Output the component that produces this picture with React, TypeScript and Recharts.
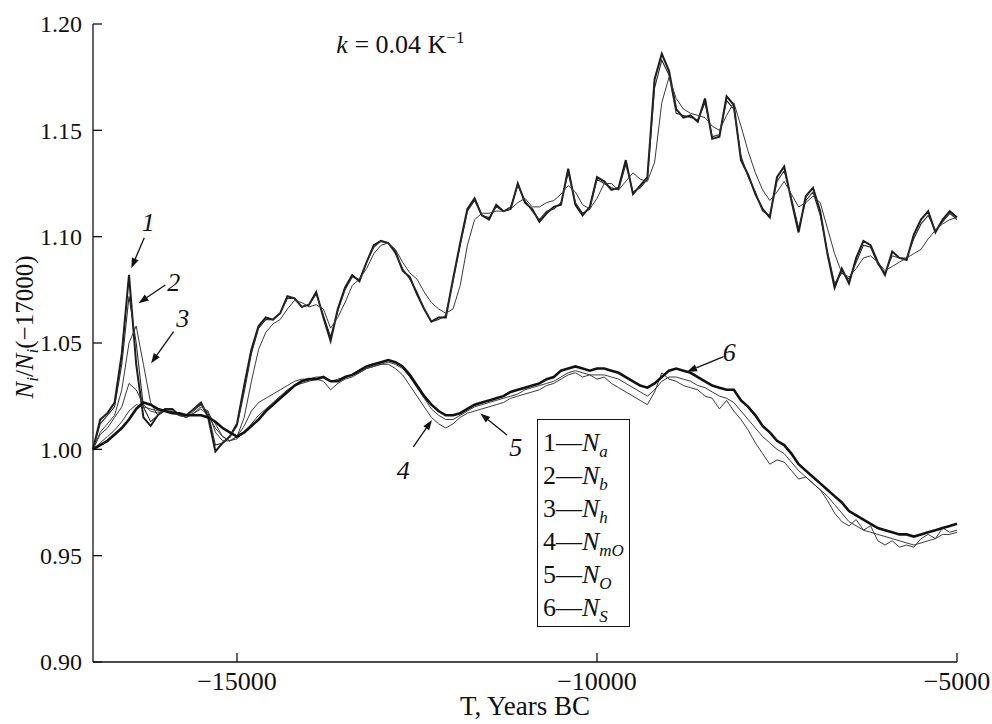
import { LineChart, Line, XAxis, YAxis, ReferenceLine, ReferenceDot, Legend } from "recharts";

const FONT = "'Liberation Serif', 'Times New Roman', serif";

// time grid, every 100 years
const years = Array.from({ length: 121 }, (_, i) => -17000 + i * 100);

const nA = [
  1.000, 1.014, 1.017, 1.022, 1.045, 1.082, 1.040, 1.015, 1.011, 1.016,
  1.019, 1.019, 1.016, 1.016, 1.019, 1.022, 1.015, 0.999, 1.003, 1.006,
  1.012, 1.030, 1.047, 1.058, 1.062, 1.061, 1.064, 1.072, 1.071, 1.067,
  1.068, 1.074, 1.062, 1.051, 1.066, 1.076, 1.082, 1.079, 1.088, 1.096,
  1.098, 1.097, 1.093, 1.084, 1.081, 1.073, 1.066, 1.060, 1.062, 1.062,
  1.080, 1.097, 1.113, 1.118, 1.110, 1.108, 1.115, 1.112, 1.113, 1.125,
  1.116, 1.113, 1.107, 1.111, 1.114, 1.115, 1.132, 1.115, 1.110, 1.114,
  1.128, 1.126, 1.122, 1.123, 1.136, 1.120, 1.124, 1.128, 1.174, 1.186,
  1.178, 1.160, 1.156, 1.157, 1.154, 1.165, 1.146, 1.147, 1.166, 1.162,
  1.136, 1.129, 1.120, 1.113, 1.109, 1.128, 1.133, 1.117, 1.102, 1.119,
  1.123, 1.112, 1.092, 1.076, 1.085, 1.078, 1.090, 1.098, 1.096, 1.088,
  1.082, 1.093, 1.090, 1.089, 1.101, 1.108, 1.112, 1.102, 1.108, 1.112,
  1.109,
];

const nB = [
  1.000, 1.012, 1.016, 1.020, 1.040, 1.072, 1.050, 1.020, 1.013, 1.016,
  1.019, 1.019, 1.016, 1.016, 1.019, 1.021, 1.017, 1.002, 1.003, 1.006,
  1.011, 1.027, 1.045, 1.057, 1.061, 1.061, 1.064, 1.071, 1.071, 1.067,
  1.068, 1.073, 1.063, 1.053, 1.065, 1.075, 1.081, 1.080, 1.088, 1.095,
  1.098, 1.097, 1.092, 1.085, 1.080, 1.074, 1.066, 1.060, 1.061, 1.063,
  1.079, 1.096, 1.112, 1.117, 1.110, 1.109, 1.114, 1.112, 1.114, 1.124,
  1.117, 1.112, 1.108, 1.112, 1.113, 1.116, 1.130, 1.116, 1.111, 1.113,
  1.127, 1.125, 1.123, 1.122, 1.134, 1.121, 1.123, 1.127, 1.170, 1.183,
  1.176, 1.158, 1.157, 1.156, 1.155, 1.163, 1.147, 1.148, 1.164, 1.160,
  1.138, 1.128, 1.121, 1.112, 1.110, 1.126, 1.131, 1.118, 1.104, 1.117,
  1.121, 1.110, 1.093, 1.078, 1.083, 1.080, 1.088, 1.096, 1.095, 1.087,
  1.083, 1.091, 1.090, 1.090, 1.099, 1.106, 1.110, 1.103, 1.107, 1.111,
  1.108,
];

const nH = [
  1.000, 1.008, 1.012, 1.016, 1.028, 1.050, 1.058, 1.040, 1.022, 1.016,
  1.018, 1.018, 1.016, 1.015, 1.017, 1.020, 1.018, 1.008, 1.004, 1.004,
  1.006, 1.015, 1.032, 1.047, 1.055, 1.059, 1.061, 1.066, 1.070, 1.069,
  1.067, 1.068, 1.066, 1.057, 1.062, 1.069, 1.077, 1.080, 1.085, 1.092,
  1.096, 1.097, 1.094, 1.088, 1.083, 1.080, 1.074, 1.069, 1.066, 1.064,
  1.066, 1.077, 1.096, 1.108, 1.111, 1.111, 1.112, 1.112, 1.113, 1.116,
  1.118, 1.114, 1.114, 1.116, 1.117, 1.120, 1.124, 1.121, 1.115, 1.113,
  1.118, 1.125, 1.125, 1.122, 1.126, 1.130, 1.127, 1.126, 1.135, 1.163,
  1.175, 1.165, 1.160, 1.158, 1.157, 1.156, 1.152, 1.150, 1.157, 1.163,
  1.152, 1.140, 1.130, 1.122, 1.117, 1.121, 1.126, 1.120, 1.114, 1.116,
  1.119, 1.116, 1.104, 1.092, 1.083, 1.081, 1.085, 1.090, 1.091, 1.088,
  1.084, 1.086, 1.088, 1.090, 1.092, 1.094, 1.099, 1.103, 1.106, 1.108,
  1.109,
];

const nMO = [
  1.000, 1.003, 1.006, 1.009, 1.013, 1.018, 1.021, 1.020, 1.019, 1.018,
  1.018, 1.017, 1.016, 1.015, 1.017, 1.019, 1.016, 1.010, 1.006, 1.004,
  1.005, 1.008, 1.012, 1.016, 1.019, 1.022, 1.025, 1.028, 1.030, 1.031,
  1.032, 1.033, 1.032, 1.028, 1.031, 1.033, 1.034, 1.036, 1.038, 1.039,
  1.040, 1.040, 1.038, 1.035, 1.030, 1.025, 1.020, 1.015, 1.012, 1.010,
  1.012, 1.015, 1.017, 1.018, 1.019, 1.020, 1.021, 1.022, 1.024, 1.025,
  1.026, 1.027, 1.028, 1.030, 1.031, 1.033, 1.035, 1.036, 1.034, 1.035,
  1.033, 1.034, 1.031, 1.029, 1.027, 1.025, 1.023, 1.021, 1.027, 1.036,
  1.033, 1.032, 1.030, 1.029, 1.028, 1.025, 1.024, 1.019, 1.023, 1.018,
  1.014, 1.009, 1.003, 0.998, 0.993, 0.995, 0.994, 0.990, 0.986, 0.987,
  0.984, 0.981, 0.976, 0.970, 0.966, 0.964, 0.967, 0.962, 0.964, 0.957,
  0.955, 0.957, 0.954, 0.955, 0.954, 0.958, 0.960, 0.958, 0.963, 0.961,
  0.962,
];

const nO = [
  1.000, 1.007, 1.010, 1.015, 1.020, 1.031, 1.028, 1.021, 1.018, 1.017,
  1.018, 1.018, 1.016, 1.015, 1.018, 1.021, 1.017, 1.012, 1.006, 1.004,
  1.006, 1.011, 1.018, 1.022, 1.024, 1.026, 1.028, 1.030, 1.032, 1.033,
  1.033, 1.034, 1.034, 1.032, 1.033, 1.034, 1.035, 1.036, 1.038, 1.039,
  1.040, 1.041, 1.040, 1.038, 1.034, 1.029, 1.024, 1.019, 1.016, 1.014,
  1.014, 1.016, 1.018, 1.020, 1.021, 1.022, 1.023, 1.024, 1.025, 1.026,
  1.028, 1.029, 1.030, 1.031, 1.032, 1.034, 1.036, 1.037, 1.036, 1.035,
  1.035, 1.035, 1.034, 1.033, 1.031, 1.029, 1.027, 1.025, 1.028, 1.032,
  1.034, 1.034, 1.033, 1.032, 1.030, 1.029, 1.027, 1.025, 1.024, 1.022,
  1.018, 1.014, 1.010, 1.006, 1.003, 1.000, 0.998, 0.994, 0.990, 0.987,
  0.984, 0.981, 0.978, 0.974, 0.970, 0.966, 0.964, 0.962, 0.961, 0.960,
  0.959, 0.958, 0.957, 0.956, 0.955, 0.956, 0.957, 0.958, 0.960, 0.960,
  0.961,
];

const nS = [
  1.000, 1.002, 1.004, 1.007, 1.010, 1.014, 1.019, 1.022, 1.021, 1.019,
  1.018, 1.017, 1.017, 1.016, 1.016, 1.016, 1.015, 1.013, 1.010, 1.008,
  1.006, 1.008, 1.011, 1.014, 1.018, 1.021, 1.024, 1.027, 1.030, 1.032,
  1.033, 1.033, 1.034, 1.032, 1.032, 1.034, 1.035, 1.037, 1.039, 1.040,
  1.041, 1.042, 1.041, 1.039, 1.035, 1.030, 1.025, 1.021, 1.018, 1.016,
  1.016, 1.017, 1.019, 1.021, 1.022, 1.023, 1.024, 1.025, 1.027, 1.028,
  1.029, 1.030, 1.031, 1.033, 1.034, 1.037, 1.038, 1.039, 1.038, 1.037,
  1.038, 1.038, 1.037, 1.036, 1.034, 1.032, 1.030, 1.029, 1.031, 1.034,
  1.037, 1.038, 1.037, 1.036, 1.034, 1.032, 1.030, 1.029, 1.028, 1.028,
  1.023, 1.020, 1.016, 1.011, 1.008, 1.004, 1.002, 0.998, 0.993, 0.990,
  0.987, 0.984, 0.981, 0.978, 0.975, 0.971, 0.969, 0.967, 0.965, 0.963,
  0.962, 0.961, 0.960, 0.960, 0.959, 0.960, 0.961, 0.962, 0.963, 0.964,
  0.965,
];

const yTicks = [0.9, 0.95, 1.0, 1.05, 1.1, 1.15, 1.2];
const xTicks = [-15000, -10000, -5000];

const series = [
  { key: "nA", num: "1", sub: "a", values: nA, width: 2, color: "#1c1c1c" },
  { key: "nB", num: "2", sub: "b", values: nB, width: 1.1, color: "#2a2a2a" },
  { key: "nH", num: "3", sub: "h", values: nH, width: 1, color: "#3a3a3a" },
  { key: "nMO", num: "4", sub: "mO", values: nMO, width: 1, color: "#3a3a3a" },
  { key: "nO", num: "5", sub: "O", values: nO, width: 1, color: "#3a3a3a" },
  { key: "nS", num: "6", sub: "S", values: nS, width: 2.6, color: "#111" },
];

const data = years.map((t, i) => {
  const row: Record<string, number> = { t };
  series.forEach((s) => (row[s.key] = s.values[i]));
  return row;
});

// curve-number callouts: label point, arrow tail, arrow tip (data coords)
const callouts = [
  { text: "1", at: [-16232, 1.107], from: [-16288, 1.0995], to: [-16468, 1.0852] },
  { text: "2", at: [-15880, 1.0787], from: [-15996, 1.0773], to: [-16367, 1.0687] },
  { text: "3", at: [-15755, 1.0618], from: [-15881, 1.0553], to: [-16194, 1.0405] },
  { text: "4", at: [-12690, 0.9903], from: [-12551, 1.0011], to: [-12292, 1.0138] },
  { text: "5", at: [-11130, 1.001], from: [-11250, 1.0067], to: [-11621, 1.0169] },
  { text: "6", at: [-8163, 1.0458], from: [-8242, 1.0436], to: [-8750, 1.0365] },
];

function Arrow(props: any) {
  const { x1, y1, x2, y2 } = props;
  const ang = Math.atan2(y2 - y1, x2 - x1);
  const len = 10;
  const hw = 3.6;
  const bx = x2 - len * Math.cos(ang);
  const by = y2 - len * Math.sin(ang);
  const px = -Math.sin(ang) * hw;
  const py = Math.cos(ang) * hw;
  return (
    <g>
      <line x1={x1} y1={y1} x2={bx} y2={by} stroke="#111" strokeWidth={1.3} />
      <polygon points={`${x2},${y2} ${bx + px},${by + py} ${bx - px},${by - py}`} fill="#111" />
    </g>
  );
}

function YTick(props: any) {
  const { x, y, payload } = props;
  return (
    <g>
      <line x1={x + 11} x2={x + 20} y1={y} y2={y} stroke="#111" strokeWidth={1.3} />
      <text x={x} y={y} dy="0.35em" textAnchor="end" fontFamily={FONT} fontSize={24} fill="#111">
        {payload.value.toFixed(2)}
      </text>
    </g>
  );
}

function XTick(props: any) {
  const { x, y, payload } = props;
  return (
    <g>
      <line x1={x} x2={x} y1={y - 8} y2={y - 17} stroke="#111" strokeWidth={1.3} />
      <text x={x} y={y} dy="0.76em" textAnchor="middle" fontFamily={FONT} fontSize={26} fill="#111">
        {"\u2212" + Math.abs(payload.value)}
      </text>
    </g>
  );
}

function YTitle(props: any) {
  const vb = props.viewBox;
  const cx = vb.x + 24;
  const cy = vb.y + vb.height / 2 - 16;
  return (
    <text
      x={cx}
      y={cy}
      dy="0.35em"
      textAnchor="middle"
      transform={`rotate(-90, ${cx}, ${cy})`}
      fontFamily={FONT}
      fontSize={25}
      fill="#111"
    >
      <tspan fontStyle="italic">N</tspan>
      <tspan fontStyle="italic" fontSize={17} dy={5}>i</tspan>
      <tspan dy={-5}>/</tspan>
      <tspan fontStyle="italic">N</tspan>
      <tspan fontStyle="italic" fontSize={17} dy={5}>i</tspan>
      <tspan dy={-5}>({"\u2212"}17000)</tspan>
    </text>
  );
}

function LegendBox() {
  return (
    <div
      style={{
        width: 93,
        height: 208,
        boxSizing: "border-box",
        border: "1.3px solid #111",
        padding: "6px 0 0 5px",
        background: "#fff",
        fontFamily: FONT,
        fontSize: 26,
        color: "#111",
        textAlign: "left",
      }}
    >
      {series.map((s) => (
        <div key={s.key} style={{ height: 33, lineHeight: "33px", whiteSpace: "nowrap" }}>
          {s.num}
          {"\u2014"}
          <i>N</i>
          <i style={{ fontSize: 17, position: "relative", top: 6 }}>{s.sub}</i>
        </div>
      ))}
    </div>
  );
}

export default function App() {
  return (
    <div style={{ position: "absolute", left: 0, top: 0, width: 992, height: 724, background: "#fff" }}>
      <LineChart width={992} height={724} data={data} margin={{ top: 24, right: 35, bottom: 0, left: 0 }}>
        <XAxis
          dataKey="t"
          type="number"
          domain={[-17000, -5000]}
          ticks={xTicks}
          interval={0}
          height={62}
          tickSize={0}
          tickMargin={8}
          tick={<XTick />}
          axisLine={{ stroke: "#111", strokeWidth: 1.3 }}
          label={{
            value: "T, Years BC",
            position: "insideBottom",
            offset: 9,
            fontFamily: FONT,
            fontSize: 27,
            fill: "#111",
          }}
        />
        <YAxis
          type="number"
          domain={[0.9, 1.2]}
          ticks={yTicks}
          interval={0}
          width={93}
          tickSize={0}
          tickMargin={11}
          tick={<YTick />}
          axisLine={{ stroke: "#111", strokeWidth: 1.3 }}
          label={{ content: (p: any) => <YTitle {...p} /> }}
        />
        <Legend
          layout="vertical"
          align="center"
          verticalAlign="middle"
          content={() => <LegendBox />}
          wrapperStyle={{ left: 537, top: 419, width: 93, height: 208 }}
        />
        {series.map((s) => (
          <Line
            key={s.key}
            dataKey={s.key}
            type="linear"
            stroke={s.color}
            strokeWidth={s.width}
            dot={false}
            activeDot={false}
            isAnimationActive={false}
          />
        ))}
        {callouts.map((c) => (
          <ReferenceLine
            key={"arrow" + c.text}
            segment={[
              { x: c.from[0], y: c.from[1] },
              { x: c.to[0], y: c.to[1] },
            ]}
            shape={(p: any) => <Arrow {...p} />}
          />
        ))}
        {callouts.map((c) => (
          <ReferenceDot
            key={"num" + c.text}
            x={c.at[0]}
            y={c.at[1]}
            r={0}
            shape={(p: any) => (
              <text
                x={p.cx}
                y={p.cy}
                dy="0.35em"
                textAnchor="middle"
                fontFamily={FONT}
                fontStyle="italic"
                fontSize={26}
                fill="#111"
              >
                {c.text}
              </text>
            )}
          />
        ))}
        <ReferenceDot
          x={-13620}
          y={1.1906}
          r={0}
          shape={(p: any) => (
            <text x={p.cx} y={p.cy} dy="0.35em" textAnchor="start" fontFamily={FONT} fontSize={26} fill="#111">
              <tspan fontStyle="italic">k</tspan>
              <tspan> = 0.04 K</tspan>
              <tspan fontSize={17} dy={-10}>{"\u22121"}</tspan>
            </text>
          )}
        />
      </LineChart>
    </div>
  );
}
